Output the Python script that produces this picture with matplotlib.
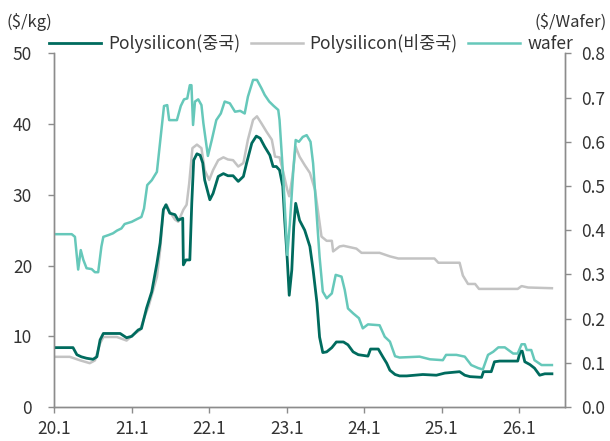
import matplotlib
matplotlib.use("Agg")
import matplotlib.pyplot as plt

plt.rcParams['font.family'] = ['Noto Sans CJK KR', 'DejaVu Sans']

# x = months since Jan 2020
china_months = [0, 2.9, 3.5, 4.2, 5.0, 6.0, 6.6, 7.1, 7.6, 10.2, 11.2, 12.0, 13.0, 13.5,
                14.3, 15.1, 15.9, 16.4, 16.9, 17.3, 17.9, 18.7, 19.2, 19.9, 20.0, 20.4,
                21.0, 21.3, 21.6, 22.1, 22.6, 23.0, 23.3, 24.1, 24.6, 25.4, 26.2, 26.9,
                27.7, 28.5, 29.3, 29.8, 30.6, 31.3, 31.9, 32.6, 33.4, 33.9, 34.4, 34.9,
                35.4, 35.7, 36.1, 36.4, 36.8, 37.1, 37.4, 38.0, 38.8, 39.6, 40.1, 40.7,
                41.1, 41.6, 42.2, 43.0, 43.7, 44.8, 45.5, 46.3, 47.1, 48.6, 49.0, 50.2,
                50.9, 51.5, 52.0, 52.8, 53.5, 54.6, 57.1, 59.2, 60.5, 62.8, 63.6, 64.4,
                66.2, 66.5, 67.7, 68.2, 69.0, 71.8, 72.2, 72.5, 72.9, 73.7, 74.4, 75.2,
                76.0, 77.1]
china_price = [8.4, 8.4, 7.4, 7.1, 6.9, 6.75, 7.1, 9.5, 10.4, 10.4, 9.8, 10.0, 10.9, 11.1,
               14.0, 16.3, 20.3, 23.2, 27.9, 28.6, 27.4, 27.2, 26.4, 26.7, 20.1, 20.8,
               20.8, 28.8, 34.9, 35.8, 35.6, 34.5, 32.1, 29.3, 30.2, 32.6, 33.0, 32.7,
               32.7, 31.9, 32.6, 34.5, 37.3, 38.3, 38.0, 36.8, 35.6, 34.0, 34.0, 33.5,
               31.2, 26.4, 20.8, 15.8, 19.4, 25.5, 28.8, 26.4, 25.0, 22.7, 19.4, 14.7,
               9.9, 7.7, 7.8, 8.4, 9.2, 9.2, 8.8, 7.8, 7.4, 7.2, 8.2, 8.2,
               7.1, 6.2, 5.2, 4.6, 4.4, 4.4, 4.6, 4.5, 4.8, 5.0, 4.5, 4.3,
               4.2, 5.0, 5.0, 6.4, 6.5, 6.5, 7.9, 7.9, 6.4, 6.0, 5.5, 4.5,
               4.7, 4.7]

nonchina_months = [0, 2.4, 4.0, 5.5, 6.3, 7.1, 7.6, 9.7, 11.2, 12.2, 13.3, 14.0, 14.6,
                   15.9, 16.4, 16.9, 17.4, 17.9, 18.7, 19.2, 20.0, 20.5, 20.9, 21.4, 22.1,
                   22.8, 23.3, 24.0, 24.6, 25.4, 26.2, 26.9, 27.7, 28.5, 29.3, 30.0, 30.8,
                   31.4, 32.1, 32.9, 33.7, 34.2, 34.9, 35.5, 36.1, 36.4, 36.9, 37.4, 38.0,
                   38.8, 39.6, 40.4, 40.9, 41.4, 42.2, 43.0, 43.2, 44.2, 44.8, 46.8, 47.6,
                   50.4, 52.0, 53.3, 58.9, 59.5, 62.8, 63.3, 64.1, 65.2, 65.8, 71.8, 72.4,
                   73.4, 77.1]
nonchina_price = [7.1, 7.1, 6.6, 6.2, 6.6, 9.0, 9.9, 9.9, 9.4, 10.2, 10.9, 12.8, 14.2,
                  18.4, 22.2, 27.9, 28.6, 27.6, 26.5, 26.2, 27.9, 28.6, 31.6, 36.6, 37.1,
                  36.6, 33.5, 32.1, 33.5, 34.9, 35.3, 35.0, 34.9, 34.0, 34.5, 37.8, 40.6,
                  41.1, 40.1, 38.9, 37.8, 35.4, 35.3, 33.1, 30.7, 29.8, 32.6, 36.8, 35.4,
                  34.2, 33.1, 30.7, 27.4, 24.1, 23.5, 23.5, 22.0, 22.7, 22.8, 22.4, 21.8,
                  21.8, 21.3, 21.0, 21.0, 20.4, 20.4, 18.6, 17.4, 17.4, 16.7, 16.7, 17.1,
                  16.9, 16.8]

wafer_months = [0, 2.7, 3.2, 3.5, 3.7, 4.1, 4.5, 5.0, 5.8, 6.3, 6.8, 7.3, 7.6, 8.4, 9.1,
                9.7, 10.4, 10.9, 12.0, 12.8, 13.5, 13.9, 14.4, 15.1, 15.9, 16.4, 16.6,
                17.0, 17.5, 17.8, 19.0, 19.6, 20.1, 20.6, 21.0, 21.25, 21.5, 21.8, 22.3,
                22.8, 23.1, 23.6, 23.8, 24.4, 25.1, 25.8, 26.4, 27.2, 28.0, 28.8, 29.5,
                30.0, 30.8, 31.4, 32.1, 32.6, 33.3, 34.0, 34.7, 34.9, 35.5, 35.9, 36.1,
                36.5, 37.0, 37.4, 37.9, 38.5, 39.1, 39.7, 40.1, 40.6, 41.1, 41.6, 42.2,
                43.0, 43.6, 44.5, 45.0, 45.5, 46.3, 47.2, 47.8, 48.6, 50.4, 51.2, 52.0,
                52.8, 53.5, 56.6, 58.2, 60.2, 60.7, 62.3, 63.6, 64.6, 65.7, 66.4, 67.2,
                68.0, 68.8, 69.8, 71.1, 71.8, 72.4, 72.9, 73.2, 73.9, 74.4, 75.5, 77.1]
wafer_price = [0.391, 0.391, 0.385, 0.340, 0.311, 0.355, 0.333, 0.314, 0.312, 0.305, 0.305,
               0.363, 0.385, 0.389, 0.393, 0.399, 0.404, 0.414, 0.419, 0.425, 0.430, 0.449,
               0.502, 0.513, 0.532, 0.600, 0.627, 0.681, 0.683, 0.649, 0.649, 0.681, 0.696,
               0.698, 0.728, 0.728, 0.638, 0.691, 0.696, 0.683, 0.642, 0.589, 0.568, 0.604,
               0.649, 0.664, 0.691, 0.687, 0.668, 0.670, 0.664, 0.702, 0.740, 0.740, 0.721,
               0.706, 0.691, 0.681, 0.672, 0.649, 0.513, 0.400, 0.344, 0.415, 0.529, 0.604,
               0.600, 0.611, 0.615, 0.600, 0.551, 0.446, 0.340, 0.261, 0.246, 0.257, 0.299,
               0.295, 0.265, 0.223, 0.212, 0.201, 0.178, 0.187, 0.185, 0.159, 0.148, 0.115,
               0.112, 0.114, 0.108, 0.106, 0.118, 0.118, 0.114, 0.095, 0.088, 0.085, 0.118,
               0.125, 0.135, 0.135, 0.121, 0.121, 0.142, 0.142, 0.129, 0.129, 0.106, 0.095,
               0.095]

tick_months = [0, 12, 24, 36, 48, 60, 72]
tick_labels = ['20.1', '21.1', '22.1', '23.1', '24.1', '25.1', '26.1']

c_china = '#006b5e'
c_nonchina = '#c3c3c3'
c_wafer = '#66c8ba'
c_axis = '#8c8c8c'
c_text = '#333333'

fig = plt.figure(figsize=(6.1, 4.41), dpi=100)
ax = fig.add_axes([0.089, 0.077, 0.838, 0.802])
ax2 = ax.twinx()

l1, = ax.plot(china_months, china_price, color=c_china, lw=2.0, label='Polysilicon(중국)', zorder=3)
l2, = ax.plot(nonchina_months, nonchina_price, color=c_nonchina, lw=1.8, label='Polysilicon(비중국)', zorder=2)
l3, = ax2.plot(wafer_months, wafer_price, color=c_wafer, lw=1.8, label='wafer')

ax.set_xlim(0, 79.2)
ax.set_ylim(0, 50)
ax2.set_ylim(0, 0.8)
ax.set_xticks(tick_months)
ax.set_xticklabels(tick_labels)
ax.set_yticks(range(0, 51, 10))
ax2.set_yticks([i / 10 for i in range(9)])
ax2.set_yticklabels([f'{i / 10:.1f}' for i in range(9)])

for a in (ax, ax2):
    a.spines['top'].set_visible(False)
    for s in ('left', 'right', 'bottom'):
        a.spines[s].set_color(c_axis)
        a.spines[s].set_linewidth(1.0)
    a.tick_params(colors=c_axis, labelcolor=c_text, labelsize=12.5, length=4, width=1.0)
ax.tick_params(axis='y', pad=12)
ax.tick_params(axis='x', pad=5)
ax2.tick_params(axis='y', pad=7)

fig.text(0.01, 0.95, '($/kg)', ha='left', va='center', fontsize=12, color=c_text)
fig.text(0.994, 0.95, '($/Wafer)', ha='right', va='center', fontsize=12, color=c_text)

fig.legend(handles=[l1, l2, l3], loc='center', bbox_to_anchor=(0.51, 0.902), ncol=3,
           frameon=False, fontsize=12.5, handlelength=3.0, handletextpad=0.4,
           columnspacing=0.6, labelcolor=c_text)

plt.savefig('out.png', dpi=100)
